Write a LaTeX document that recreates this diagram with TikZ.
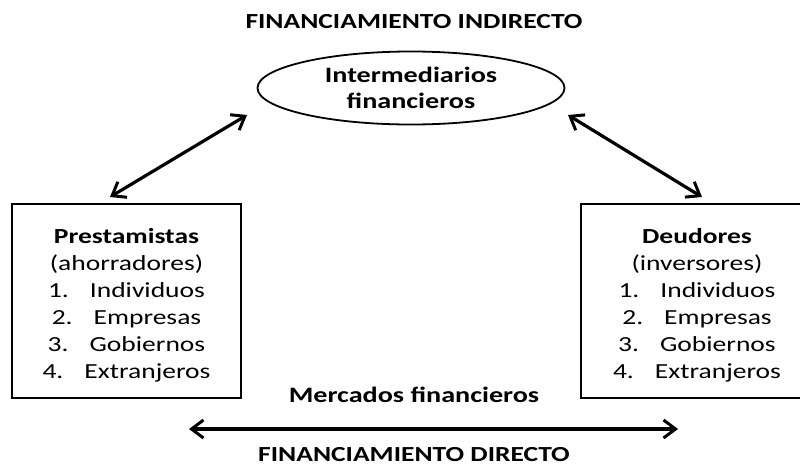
\documentclass[tikz,border=0pt]{standalone}
\usepackage{fontspec}
\setmainfont{Carlito}[FakeStretch=1.28]
\usetikzlibrary{arrows.meta,shapes.geometric}
\newcommand{\eintrag}[2]{#1.\hspace{21pt}#2}
\newcommand{\liste}[1]{\raisebox{-5pt}[\height][\depth]{\begin{tabular}{@{}c@{}}#1\end{tabular}}}
\begin{document}
\begin{tikzpicture}[
    x=1pt, y=-1pt,
    every node/.style={inner sep=0pt, outer sep=0pt},
    titel/.style={font=\fontsize{21.5}{26}\selectfont\bfseries},
    kasten/.style={draw, line width=1.8pt, minimum height=194pt,
        font=\fontsize{21.5}{27}\selectfont},
    spitze/.tip={Straight Barb[length=12pt,width=18pt,line width=3pt]},
    pfeil/.style={line width=3.2pt, spitze-spitze}
    ]
    \useasboundingbox (0,0) rectangle (800,466);
    \node[titel] (indirekt) at (414,22) {FINANCIAMIENTO INDIRECTO};
    \node[draw, ellipse, line width=1.8pt, minimum width=307pt, minimum height=73pt,
        align=center, font=\fontsize{22}{26}\selectfont\bfseries] (inter) at (411,88)
        {Intermediarios\\financieros};
    \node[kasten, minimum width=229pt] (prest) at (126.5,301) {\liste{%
        \textbf{Prestamistas}\\(ahorradores)\\
        \eintrag{1}{Individuos}\\ \eintrag{2}{Empresas}\\
        \eintrag{3}{Gobiernos}\\ \eintrag{4}{Extranjeros}}};
    \node[kasten, minimum width=232pt] (deud) at (697,301) {\liste{%
        \textbf{Deudores}\\(inversores)\\
        \eintrag{1}{Individuos}\\ \eintrag{2}{Empresas}\\
        \eintrag{3}{Gobiernos}\\ \eintrag{4}{Extranjeros}}};
    \node[font=\fontsize{22}{26}\selectfont\bfseries] (mercados) at (414,395) {Mercados financieros};
    \node[titel] (direkt) at (414,455) {FINANCIAMIENTO DIRECTO};
    % freie Pfeilenden
    \coordinate (pl) at (110,197);
    \coordinate (il) at (247,115);
    \coordinate (ir) at (568,115);
    \coordinate (dr) at (702,197);
    \coordinate (ml) at (189,429);
    \coordinate (mr) at (678,429);
    \draw[pfeil] (pl) -- (il);
    \draw[pfeil] (ir) -- (dr);
    \draw[pfeil] (ml) -- (mr);
\end{tikzpicture}
\end{document}
